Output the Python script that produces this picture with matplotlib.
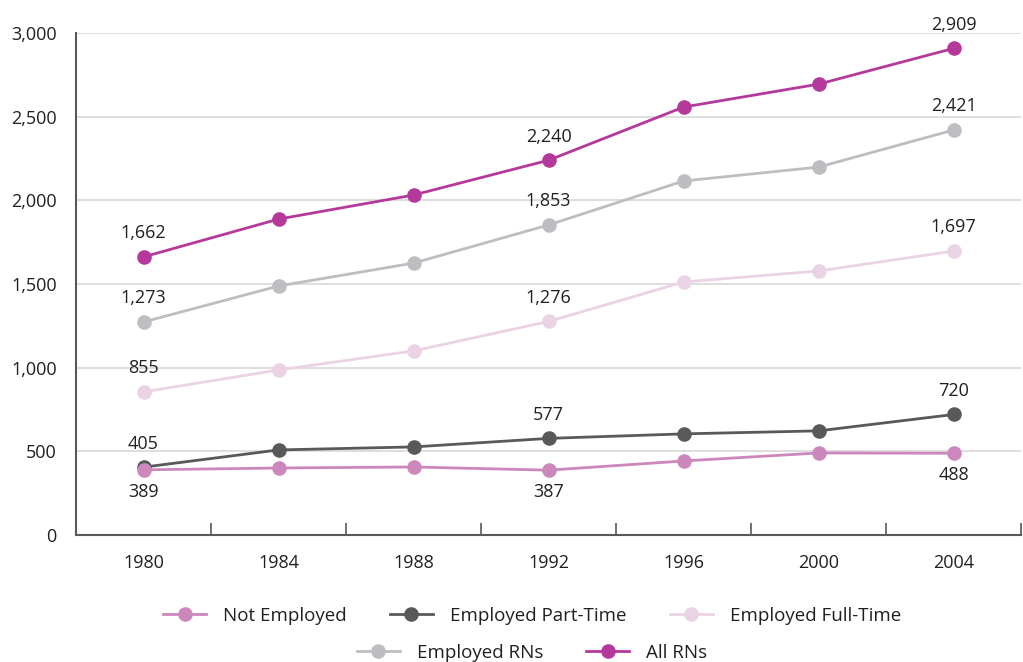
import matplotlib
matplotlib.use("Agg")
import matplotlib.pyplot as plt
from matplotlib.lines import Line2D
from matplotlib.ticker import FuncFormatter, FixedLocator

years = ["1980", "1984", "1988", "1992", "1996", "2000", "2004"]
not_employed = [389, 400, 406, 387, 442, 490, 488]
part_time = [405, 508, 526, 577, 604, 622, 720]
full_time = [855, 986, 1100, 1276, 1512, 1578, 1697]
employed_rns = [1273, 1488, 1625, 1853, 2116, 2199, 2421]
all_rns = [1662, 1888, 2032, 2240, 2558, 2695, 2909]

series_names = ["Not Employed", "Employed Part-Time", "Employed Full-Time", "Employed RNs", "All RNs"]
colors = ["#CC88BC", "#58595B", "#EBD3E6", "#BDBEC1", "#B5399A"]
label_idx = [0, 3, 6]

plt.rcParams['font.family'] = ['Open Sans', 'DejaVu Sans']

fig = plt.figure(figsize=(10.23, 6.62), dpi=100)
ax = fig.add_axes([0.0743, 0.192, 0.924, 0.758])

x = list(range(len(years)))
data = [not_employed, part_time, full_time, employed_rns, all_rns]
draw_order = [4, 3, 2, 1, 0]
for k, i in enumerate(draw_order):
    ax.plot(x, data[i], color=colors[i], lw=2.0, marker='o', ms=10.5,
            markeredgewidth=0, zorder=3 + k * 0.1)

# value labels
for i, vals in enumerate(data):
    below = (i == 0)
    for j in label_idx:
        ax.annotate(f"{vals[j]:,}", (x[j], vals[j]),
                    xytext=(0, -16 if below else 17), textcoords='offset points',
                    ha='center', va='center', fontsize=13, color='#231F20')

ax.set_xlim(-0.5, 6.5)
ax.set_ylim(0, 3000)
ax.set_yticks(range(0, 3001, 500))
ax.yaxis.set_major_formatter(FuncFormatter(lambda v, p: f"{int(v):,}"))
ax.grid(axis='y', color='#D4D4D6', lw=1.1, zorder=0)
ax.set_axisbelow(True)

ax.set_xticks(x)
ax.set_xticklabels(years)
ax.xaxis.set_minor_locator(FixedLocator([k + 0.5 for k in range(-1, 7)]))
ax.tick_params(axis='x', which='major', length=0, pad=14, labelsize=13, labelcolor='#231F20')
ax.tick_params(axis='x', which='minor', direction='in', length=9, width=1.2, color='#58595B')
ax.tick_params(axis='y', length=0, pad=14, labelsize=13, labelcolor='#231F20')

for s in ['top', 'right']:
    ax.spines[s].set_visible(False)
for s in ['left', 'bottom']:
    ax.spines[s].set_color('#58595B')
    ax.spines[s].set_linewidth(1.5)

def handle(c):
    return Line2D([0], [0], color=c, lw=2.0, marker='o', ms=10.5, markeredgewidth=0)

row1 = [0, 1, 2]
row2 = [3, 4]
kw = dict(loc='center', frameon=False, fontsize=13.5, handlelength=2.3,
          columnspacing=2.3, handletextpad=0.9)
leg1 = fig.legend([handle(colors[i]) for i in row1], [series_names[i] for i in row1],
                  bbox_to_anchor=(0.52, 0.070), ncol=3, **kw)
leg2 = fig.legend([handle(colors[i]) for i in row2], [series_names[i] for i in row2],
                  bbox_to_anchor=(0.52, 0.014), ncol=2, **kw)
for t in leg1.get_texts() + leg2.get_texts():
    t.set_color('#231F20')

fig.savefig("out.png", dpi=100)
